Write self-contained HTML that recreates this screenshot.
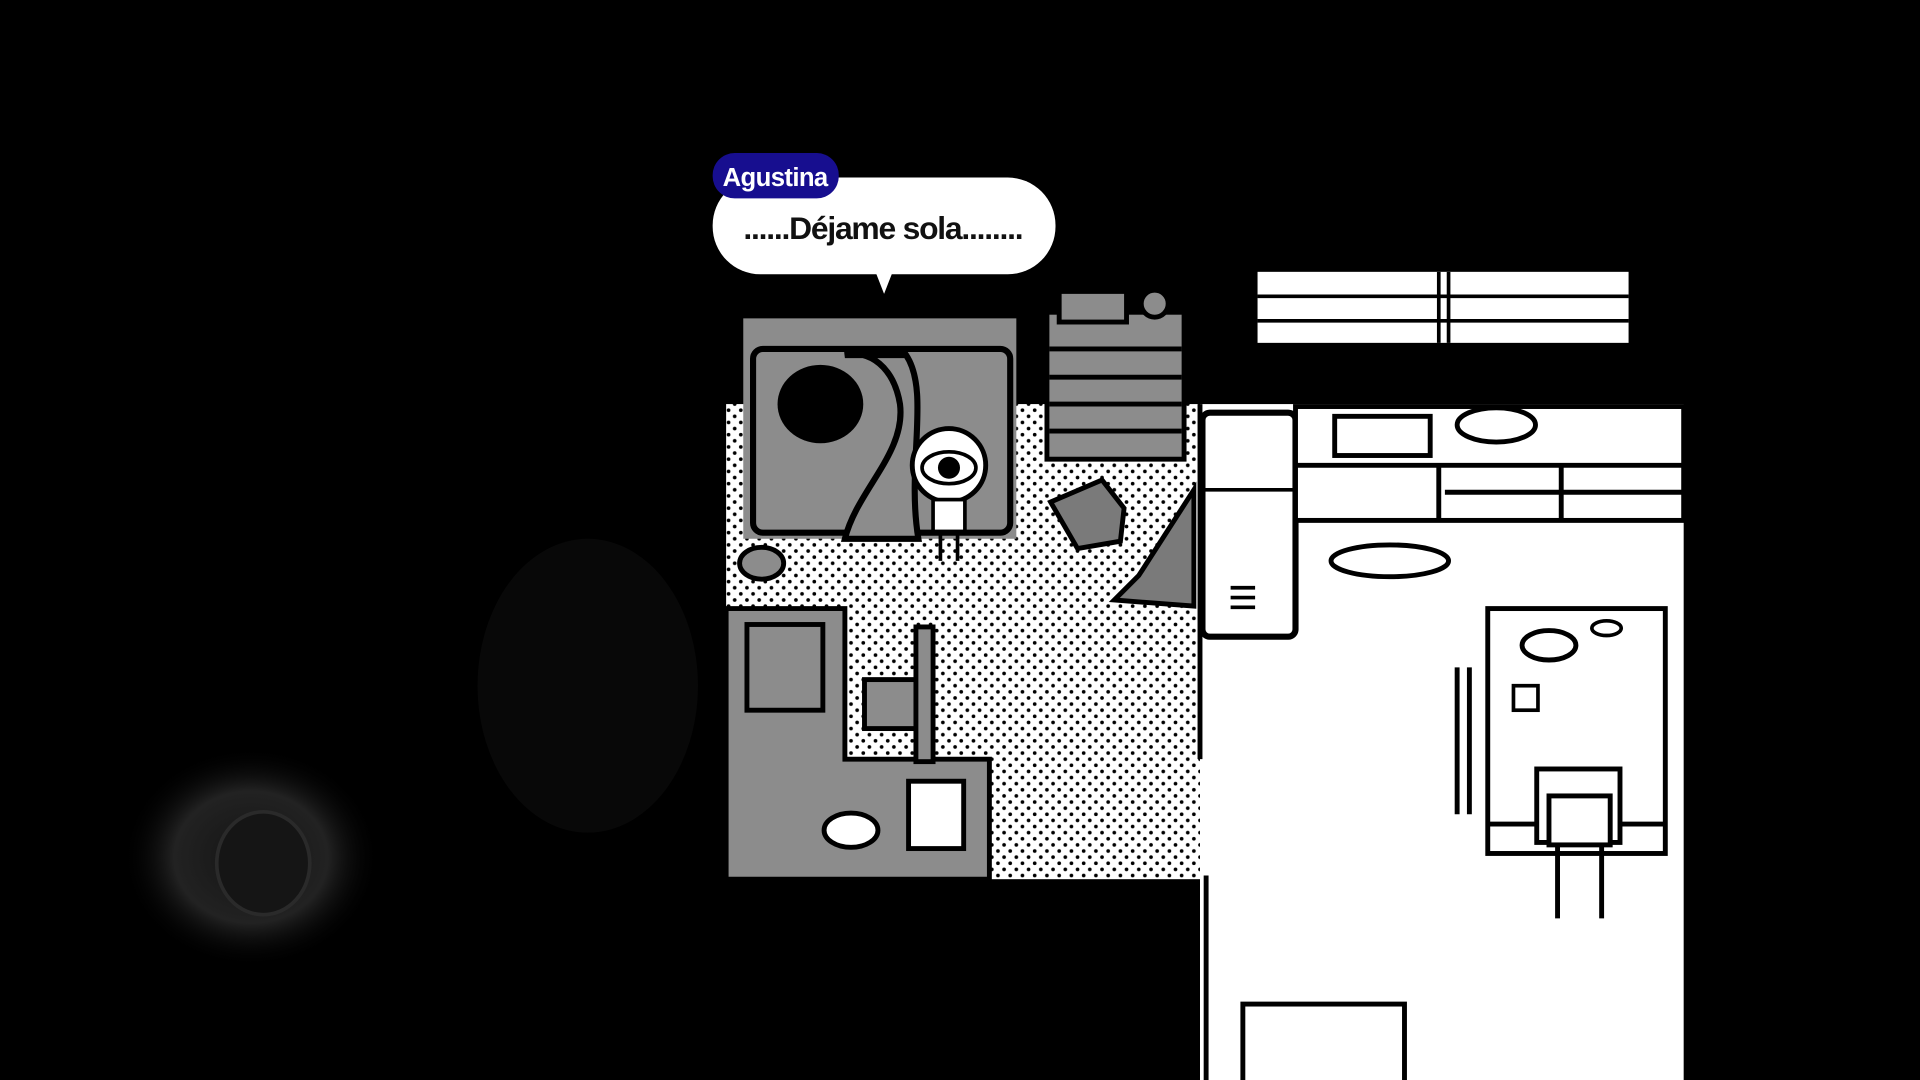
<!DOCTYPE html>
<html><head><meta charset="utf-8"><style>
html,body{margin:0;padding:0;background:#000;width:1920px;height:1080px;overflow:hidden}
svg{display:block}
</style></head><body>
<svg width="1920" height="1080" viewBox="0 0 1568 882" preserveAspectRatio="none" xmlns="http://www.w3.org/2000/svg">
<defs>
<pattern id="dots" width="10" height="10" patternUnits="userSpaceOnUse"><rect width="10" height="10" fill="#fff"/><circle cx="5" cy="5" r="1.5" fill="#000"/><circle cx="0" cy="0" r="1.5" fill="#000"/><circle cx="10" cy="0" r="1.5" fill="#000"/><circle cx="0" cy="10" r="1.5" fill="#000"/><circle cx="10" cy="10" r="1.5" fill="#000"/></pattern>
<radialGradient id="sw" cx="50%" cy="50%" r="50%"><stop offset="0" stop-color="#141414"/><stop offset="0.6" stop-color="#222"/><stop offset="1" stop-color="#000" stop-opacity="0"/></radialGradient>
</defs>
<rect width="1568" height="882" fill="#000"/>
<ellipse cx="205" cy="700" rx="105" ry="90" fill="url(#sw)"/>
<ellipse cx="215" cy="705" rx="38" ry="42" fill="#151515" stroke="#2a2a2a" stroke-width="3"/>
<ellipse cx="480" cy="560" rx="90" ry="120" fill="#080808"/>
<!-- kitchen -->
<rect x="980" y="330" width="395" height="552" fill="#fff"/>
<rect x="1027" y="222" width="303" height="58" fill="#fff"/>
<path d="M1027 242H1330M1027 262H1330M1175 222V280M1183 222V280" stroke="#000" stroke-width="3"/>
<!-- floor -->
<rect x="593" y="330" width="387" height="388" fill="url(#dots)"/>
<path d="M980 330V620M985 715V882" stroke="#000" stroke-width="4"/>
<!-- bed -->
<rect x="607" y="260" width="223" height="180" fill="#8c8c8c"/>
<rect x="615" y="285" width="210" height="150" fill="#8c8c8c" stroke="#000" stroke-width="5" rx="8"/>
<ellipse cx="670" cy="330" rx="35" ry="32" fill="#000"/>
<path d="M690 290 C710 285 730 300 735 330 C740 370 700 400 690 440 L750 440 C740 380 760 320 740 290 Z" fill="#8c8c8c" stroke="#000" stroke-width="5"/>
<!-- dresser -->
<rect x="855" y="255" width="112" height="120" fill="#8c8c8c" stroke="#000" stroke-width="4"/>
<path d="M857 285H965M857 308H965M857 330H965M857 352H965" stroke="#000" stroke-width="4"/>
<rect x="865" y="238" width="55" height="25" fill="#8c8c8c" stroke="#000" stroke-width="4"/>
<circle cx="943" cy="248" r="11" fill="#8c8c8c" stroke="#000" stroke-width="4"/>
<path d="M858 410 L900 392 L918 415 L915 442 L880 448 Z" fill="#7a7a7a" stroke="#000" stroke-width="4"/>
<path d="M975 400 L930 470 L910 490 L975 495 Z" fill="#7a7a7a" stroke="#000" stroke-width="4"/>
<!-- desk area -->
<path d="M593 497H690V620H808V718H593Z" fill="#8c8c8c" stroke="#000" stroke-width="4"/>
<rect x="610" y="510" width="62" height="70" fill="#8c8c8c" stroke="#000" stroke-width="4"/>
<rect x="706" y="555" width="52" height="40" fill="#8c8c8c" stroke="#000" stroke-width="4"/>
<rect x="748" y="512" width="14" height="110" fill="#8c8c8c" stroke="#000" stroke-width="4"/>
<rect x="742" y="638" width="45" height="55" fill="#fff" stroke="#000" stroke-width="4"/>
<ellipse cx="695" cy="678" rx="22" ry="14" fill="#fff" stroke="#000" stroke-width="4"/>
<ellipse cx="622" cy="460" rx="18" ry="13" fill="#8c8c8c" stroke="#000" stroke-width="4"/>
<!-- character -->
<circle cx="775" cy="380" r="30" fill="#fff" stroke="#000" stroke-width="4"/>
<ellipse cx="775" cy="382" rx="22" ry="13" fill="#fff" stroke="#000" stroke-width="3"/>
<circle cx="775" cy="382" r="9" fill="#000"/>
<rect x="762" y="408" width="26" height="26" fill="#fff" stroke="#000" stroke-width="3"/>
<path d="M768 434V458M782 434V458" stroke="#000" stroke-width="3"/>
<!-- fridge -->
<rect x="982" y="337" width="76" height="183" fill="#fff" stroke="#000" stroke-width="5" rx="6"/>
<path d="M982 400H1058M1005 480H1025M1005 488H1025M1005 496H1025" stroke="#000" stroke-width="3"/>
<!-- counter -->
<rect x="1058" y="332" width="317" height="93" fill="#fff" stroke="#000" stroke-width="4"/>
<path d="M1058 380H1375M1175 380V425M1275 380V425M1180 402H1375" stroke="#000" stroke-width="4"/>
<rect x="1090" y="340" width="78" height="32" fill="#fff" stroke="#000" stroke-width="4"/>
<ellipse cx="1222" cy="347" rx="32" ry="14" fill="#fff" stroke="#000" stroke-width="4"/>
<ellipse cx="1135" cy="458" rx="48" ry="13" fill="#fff" stroke="#000" stroke-width="4"/>
<!-- table -->
<rect x="1215" y="497" width="145" height="200" fill="#fff" stroke="#000" stroke-width="4"/>
<path d="M1215 673H1360" stroke="#000" stroke-width="4"/>
<ellipse cx="1265" cy="527" rx="22" ry="12" fill="#fff" stroke="#000" stroke-width="4"/>
<ellipse cx="1312" cy="513" rx="12" ry="6" fill="#fff" stroke="#000" stroke-width="3"/>
<rect x="1236" y="560" width="20" height="20" fill="#fff" stroke="#000" stroke-width="3"/>
<rect x="1255" y="628" width="68" height="60" fill="#fff" stroke="#000" stroke-width="4"/>
<rect x="1265" y="650" width="50" height="40" fill="#fff" stroke="#000" stroke-width="4"/>
<path d="M1272 690V750M1308 690V750M1190 545V665M1200 545V665" stroke="#000" stroke-width="4"/>
<rect x="1015" y="820" width="132" height="70" fill="#fff" stroke="#000" stroke-width="4"/>
<!-- bubble -->
<rect x="582" y="145" width="280" height="79" rx="39" fill="#fff"/>
<path d="M715 222 L722 240 L729 222 Z" fill="#fff"/>
<rect x="582" y="125" width="103" height="37" rx="18" fill="#170e8f"/>
<text x="633" y="152" text-anchor="middle" font-family="Liberation Sans, sans-serif" font-weight="bold" font-size="21" fill="#fff" letter-spacing="-0.5">Agustina</text>
<text x="721" y="195" text-anchor="middle" font-family="Liberation Sans, sans-serif" font-weight="bold" font-size="26" fill="#111" letter-spacing="-1">......Déjame sola........</text>
</svg>
</body></html>
